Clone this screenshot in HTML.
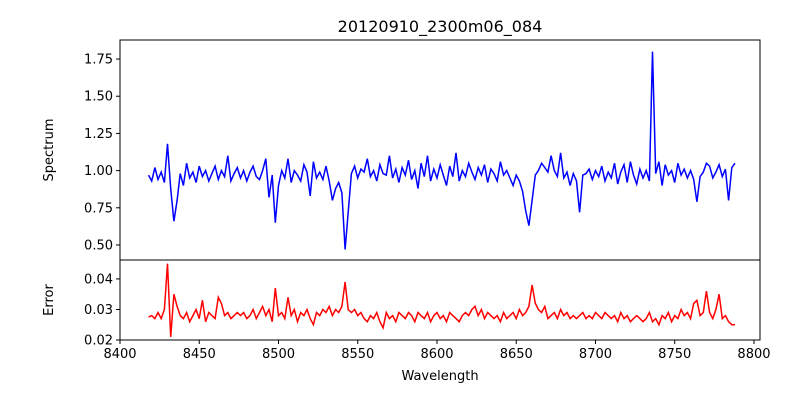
<!DOCTYPE html>
<html><head><meta charset="utf-8"><style>
body{margin:0;background:#fff}
svg{font-family:"DejaVu Sans","Liberation Sans",sans-serif}
</style></head><body>
<svg id="c" width="800" height="400" xmlns="http://www.w3.org/2000/svg">
<text x="440" y="32" text-anchor="middle" font-size="16">20120910_2300m06_084</text>
<text x="440" y="380" text-anchor="middle" font-size="13">Wavelength</text>
<text transform="translate(53,150) rotate(-90)" text-anchor="middle" font-size="13">Spectrum</text>
<text transform="translate(53,300) rotate(-90)" text-anchor="middle" font-size="13">Error</text>
<g id="g"></g>
</svg>
<script>
const waveStart = 8418, waveStep = 2;
const flux = [0.97,0.93,1.02,0.94,0.99,0.92,1.18,0.88,0.66,0.80,
0.98,0.90,1.05,0.95,0.99,0.92,1.03,0.96,1.00,0.93,
0.98,1.03,0.94,1.00,0.96,1.10,0.93,0.98,1.02,0.95,
1.00,0.93,0.99,1.03,0.96,0.94,1.00,1.08,0.82,0.97,
0.65,0.90,1.00,0.95,1.08,0.92,1.00,0.97,0.93,1.04,
0.99,0.83,1.06,0.95,0.99,0.94,1.03,0.93,0.80,0.88,
0.92,0.85,0.47,0.72,0.98,1.03,0.95,1.01,0.99,1.08,
0.96,1.00,0.93,1.04,0.98,0.97,1.10,0.95,1.01,0.92,
1.02,0.97,1.07,0.94,1.00,0.88,1.05,0.96,1.10,0.93,
1.01,0.95,1.04,0.97,0.90,1.03,0.96,1.12,0.93,1.00,
0.96,1.05,0.99,0.94,1.02,0.97,1.04,0.92,1.01,0.98,
0.93,1.06,0.97,1.00,0.95,0.90,0.97,0.93,0.86,0.73,
0.63,0.80,0.97,1.00,1.05,1.02,0.99,1.10,1.00,0.96,
1.12,0.95,0.99,0.90,0.98,0.93,0.72,0.97,0.98,1.01,
0.94,1.00,0.96,1.03,0.93,0.99,0.95,1.05,0.91,0.99,
1.04,0.92,1.06,0.97,0.91,1.01,0.95,1.00,0.93,1.80,
0.98,1.06,0.90,1.04,0.97,1.00,0.92,1.05,0.97,1.01,
0.95,1.00,0.94,0.79,0.96,0.99,1.05,1.03,0.95,0.99,
1.04,0.96,1.01,0.80,1.02,1.05];
const err = [.0275,.028,.027,.029,.027,.030,.045,.021,.035,.031,
.028,.027,.029,.026,.028,.030,.027,.033,.026,.029,
.028,.027,.034,.032,.028,.029,.027,.028,.029,.028,
.029,.027,.028,.030,.027,.029,.031,.028,.030,.026,
.037,.028,.029,.027,.034,.028,.030,.026,.029,.028,
.030,.027,.025,.029,.028,.030,.029,.031,.028,.030,
.029,.031,.039,.030,.029,.030,.028,.029,.027,.026,
.028,.027,.029,.026,.024,.029,.027,.028,.026,.029,
.028,.027,.029,.028,.026,.029,.028,.027,.029,.026,
.028,.029,.027,.028,.026,.029,.028,.027,.026,.028,
.029,.028,.030,.031,.028,.030,.027,.029,.028,.027,
.028,.026,.029,.027,.028,.029,.027,.030,.028,.029,
.031,.038,.032,.030,.029,.031,.027,.028,.029,.027,
.030,.028,.029,.027,.028,.027,.028,.029,.027,.028,
.027,.029,.028,.027,.029,.028,.027,.028,.026,.029,
.027,.028,.026,.027,.028,.027,.026,.027,.029,.026,
.027,.025,.028,.027,.029,.026,.028,.027,.030,.028,
.029,.027,.032,.033,.028,.029,.036,.029,.027,.030,
.035,.027,.028,.026,.025,.025];
const xTicks = [8400,8450,8500,8550,8600,8650,8700,8750,8800];
const fluxTicks = [0.50,0.75,1.00,1.25,1.50,1.75];
const errTicks = [0.02,0.03,0.04];

const L=120,R=760,T1=40,B1=260,T2=260,B2=340;
const X=v=>L+(v-8400)*(R-L)/403.8;
const Y1=v=>B1-(v-0.399)*(B1-T1)/(1.878-0.399);
const Y2=v=>B2-(v-0.02)*(B2-T2)/(0.0462-0.02);
const g=document.getElementById('g');
const NS='http://www.w3.org/2000/svg';
function mk(tag,attrs){const e=document.createElementNS(NS,tag);for(const k in attrs)e.setAttribute(k,attrs[k]);g.appendChild(e);return e;}

let p1='',p2='';
flux.forEach((v,i)=>{p1+=(i?'L':'M')+X(waveStart+i*waveStep).toFixed(1)+','+Y1(v).toFixed(1);});
err.forEach((v,i)=>{p2+=(i?'L':'M')+X(waveStart+i*waveStep).toFixed(1)+','+Y2(v).toFixed(1);});
let l1=mk('path',{d:p1,fill:'none',stroke:'#0000ff','stroke-width':1.5});


let l2=mk('path',{d:p2,fill:'none',stroke:'#ff0000','stroke-width':1.5});



let f1=mk('rect',{x:L,y:T1,width:R-L,height:B1-T1,fill:'none',stroke:'#000','stroke-width':1});


let f2=mk('rect',{x:L,y:T2,width:R-L,height:B2-T2,fill:'none',stroke:'#000','stroke-width':1});



xTicks.forEach(v=>{const x=X(v);
 mk('line',{x1:x,x2:x,y1:B2,y2:B2+4,stroke:'#000'});
 const t=mk('text',{x:x,y:B2+18,'text-anchor':'middle','font-size':13});t.textContent=v;
 
 });
fluxTicks.forEach(v=>{const y=Y1(v);
 mk('line',{x1:L-4,x2:L,y1:y,y2:y,stroke:'#000'});
 const t=mk('text',{x:L-7,y:y+4.5,'text-anchor':'end','font-size':13});t.textContent=v.toFixed(2);
 
 });
errTicks.forEach(v=>{const y=Y2(v);
 mk('line',{x1:L-4,x2:L,y1:y,y2:y,stroke:'#000'});
 const t=mk('text',{x:L-7,y:y+4.5,'text-anchor':'end','font-size':13});t.textContent=v.toFixed(2);
 
 });
</script>
</body></html>
